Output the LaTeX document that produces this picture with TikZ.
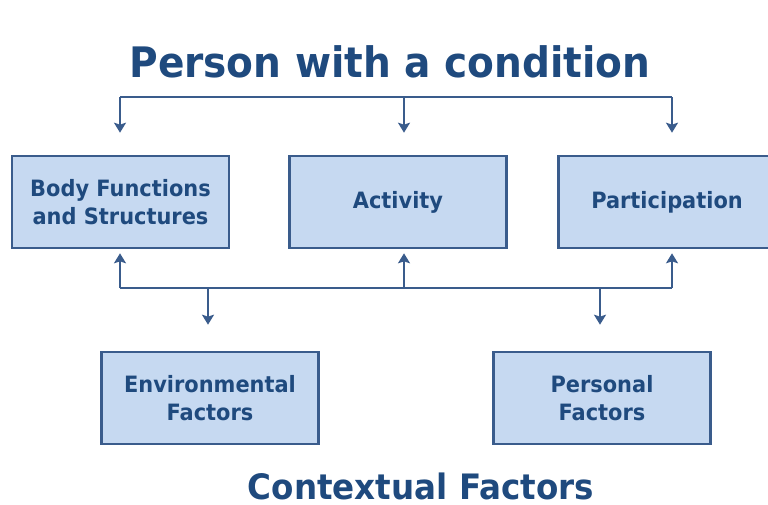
\documentclass[tikz,border=0pt]{standalone}
\usepackage{fontspec}
\setmainfont{DejaVu Sans}[FakeStretch=0.93]
\usetikzlibrary{arrows.meta}

\definecolor{icfnavy}{HTML}{1F4A7E}
\definecolor{icfline}{HTML}{3A5C8C}
\definecolor{icffill}{HTML}{C6D9F1}

\tikzset{
  icfbox/.style={draw=icfline, fill=icffill, line width=2.6pt,
    minimum width=217pt, minimum height=92pt, align=center,
    text=icfnavy, font=\bfseries\fontsize{22.5}{27.5}\selectfont},
  heading/.style={anchor=base, inner sep=0pt, text=icfnavy},
  link/.style={draw=icfline, line width=2.4pt}
}

\begin{document}
\begin{tikzpicture}[x=1pt,y=-1pt,>={Stealth[length=10pt,width=12pt,inset=2pt]}]
  \useasboundingbox (0,0) rectangle (768,504);

  % headings
  \node[heading,font=\bfseries\fontsize{42}{46}\selectfont] (person) at (390,77) {Person with a condition};
  \node[heading,font=\bfseries\fontsize{35}{40}\selectfont] (context) at (421,499) {Contextual Factors};

  % the three components
  \node[icfbox] (body) at (120.5,202) {Body Functions\\and Structures};
  \node[icfbox] (act)  at (398,202)   {Activity};
  \node[icfbox] (part) at (667,202)   {Participation};

  % contextual factors
  \node[icfbox] (env)  at (210,398) {Environmental\\Factors};
  \node[icfbox] (pers) at (602,398) {Personal\\Factors};

  % top bus and its drops
  \coordinate (tl) at (120,97);
  \coordinate (tm) at (404,97);
  \coordinate (tr) at (672,97);
  \draw[link] (tl) -- (tr);
  \draw[link,->,shorten >=22pt] (tl) -- (tl |- body.north);
  \draw[link,->,shorten >=22pt] (tm) -- (tm |- act.north);
  \draw[link,->,shorten >=22pt] (tr) -- (tr |- part.north);

  % lower bus, up into the components
  \coordinate (bl) at (120,288);
  \coordinate (bm) at (404,288);
  \coordinate (br) at (672,288);
  \draw[link] (bl) -- (br);
  \draw[link,->,shorten >=4pt] (bl) -- (bl |- body.south);
  \draw[link,->,shorten >=4pt] (bm) -- (bm |- act.south);
  \draw[link,->,shorten >=4pt] (br) -- (br |- part.south);

  % down to the contextual factors
  \coordinate (be) at (208,288);
  \coordinate (bp) at (600,288);
  \draw[link,->,shorten >=26pt] (be) -- (be |- env.north);
  \draw[link,->,shorten >=26pt] (bp) -- (bp |- pers.north);
\end{tikzpicture}
\end{document}
